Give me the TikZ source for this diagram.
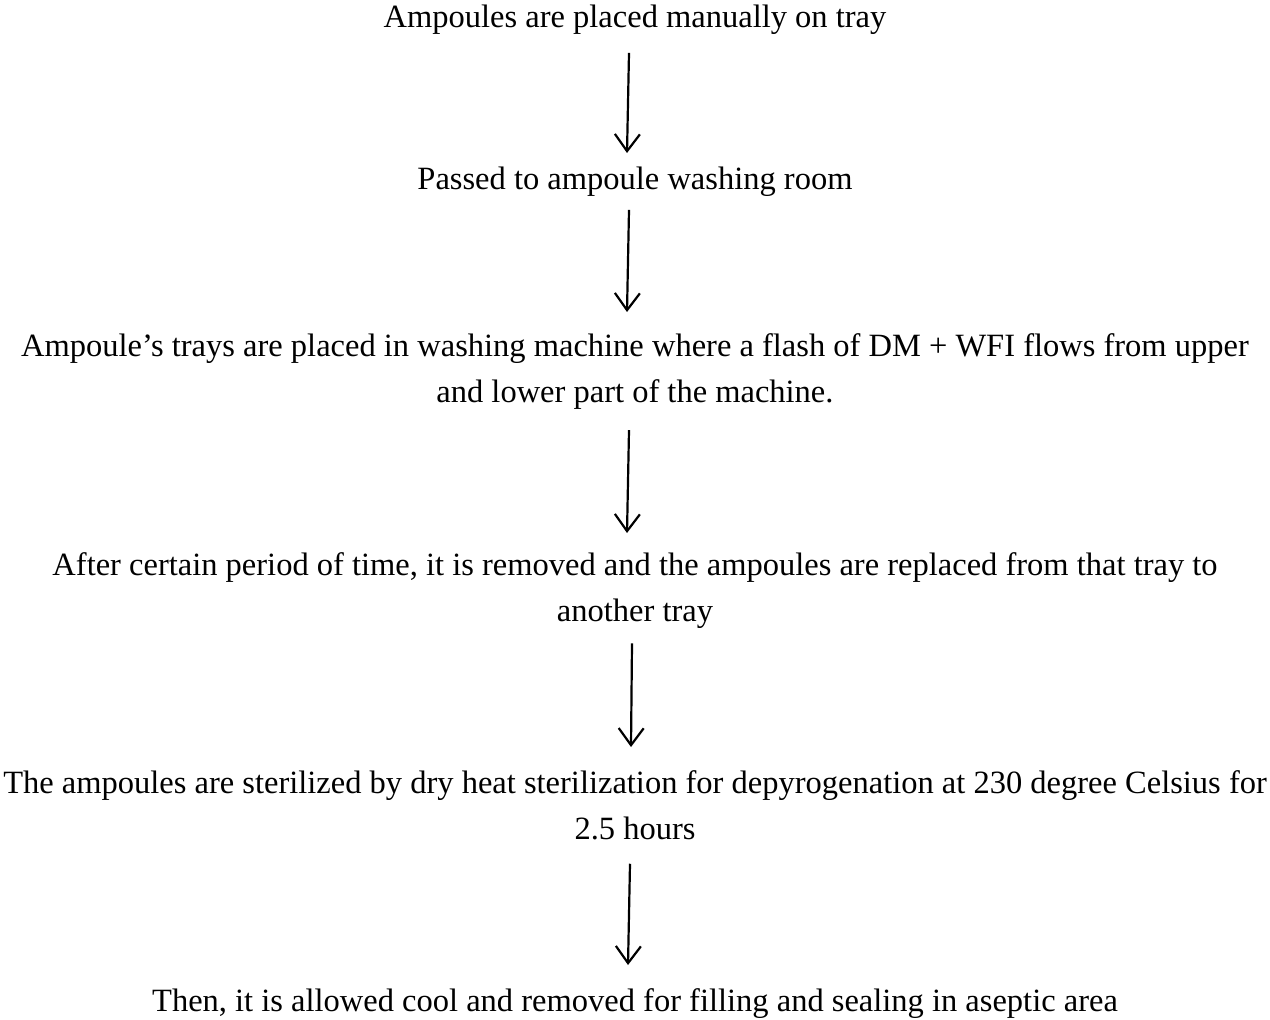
\documentclass[tikz,border=0pt]{standalone}
\usepackage{fontspec}
\setmainfont{Liberation Serif}
\usetikzlibrary{arrows.meta,calc}

\tikzset{
  stepnode/.style={anchor=north, inner sep=0pt, align=center,
    font=\fontsize{32.5}{46}\selectfont},
  flow/.style={line width=2.2pt, -{Straight Barb[length=17pt,width=25pt,line width=2.2pt]}}
}

\begin{document}
\begin{tikzpicture}[x=1pt,y=-1pt]
  \useasboundingbox (0,0) rectangle (1270,1020);

  % process steps, top to bottom
  \node[stepnode] (s1) at (635,5)   {Ampoules are placed manually on tray};
  \node[stepnode] (s2) at (635,167) {Passed to ampoule washing room};
  \node[stepnode] (s3) at (635,333) {Ampoule’s trays are placed in washing machine where a flash of DM + WFI flows from upper\\and lower part of the machine.};
  \node[stepnode] (s4) at (635,552) {After certain period of time, it is removed and the ampoules are replaced from that tray to\\another tray};
  \node[stepnode] (s5) at (635,770) {The ampoules are sterilized by dry heat sterilization for depyrogenation at 230 degree Celsius for\\2.5 hours};
  \node[stepnode] (s6) at (635,988) {Then, it is allowed cool and removed for filling and sealing in aseptic area};

  % arrows between consecutive steps
  \draw[flow] ($(s1.south)+(-6,18)$) -- ($(s2.north)+(-8,-14)$);
  \draw[flow] ($(s2.south)+(-6,13)$) -- ($(s3.north)+(-8,-21)$);
  \draw[flow] ($(s3.south)+(-6,21)$) -- ($(s4.north)+(-8,-19)$);
  \draw[flow] ($(s4.south)+(-3,15)$) -- ($(s5.north)+(-4,-23)$);
  \draw[flow] ($(s5.south)+(-5,24)$) -- ($(s6.north)+(-7,-23)$);
\end{tikzpicture}
\end{document}
